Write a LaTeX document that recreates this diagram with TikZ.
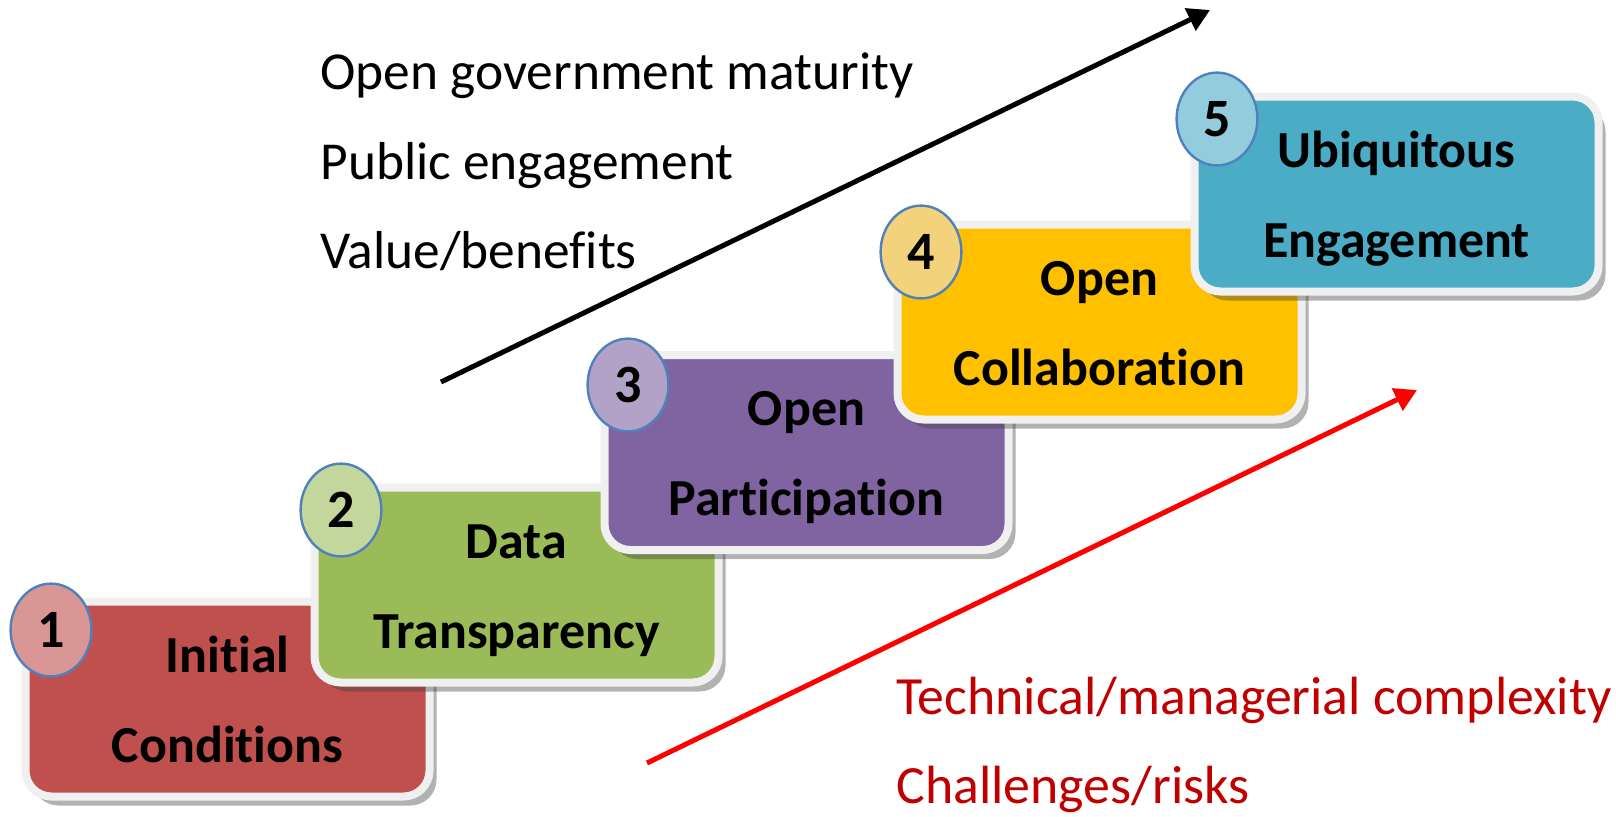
\documentclass[tikz,border=0pt]{standalone}
\usepackage{fontspec}
\setmainfont[Ligatures={NoCommon}]{Carlito}
\usetikzlibrary{shapes.geometric,arrows.meta,shadows}
\definecolor{s1}{HTML}{C0504D}
\definecolor{s2}{HTML}{9BBB59}
\definecolor{s3}{HTML}{8064A2}
\definecolor{s4}{HTML}{FFC000}
\definecolor{s5}{HTML}{4BACC6}
\definecolor{n1}{HTML}{D99694}
\definecolor{n2}{HTML}{C3D69B}
\definecolor{n3}{HTML}{B3A2C7}
\definecolor{n4}{HTML}{F3D27C}
\definecolor{n5}{HTML}{93CDDD}
\definecolor{boxedge}{HTML}{F0F0F0}
\definecolor{numedge}{HTML}{4F81BD}
\definecolor{darkred}{HTML}{C00000}
\definecolor{brightred}{HTML}{FF0000}
\newcommand{\twol}[2]{\strut #1\\#2\strut}
\tikzset{
  stagebox/.style={rectangle, rounded corners=13pt, fill=#1, draw=boxedge,
    line width=4pt, minimum width=202pt, minimum height=97.5pt, align=center,
    inner sep=0pt, font=\bfseries\fontsize{26}{45}\selectfont,
    drop shadow={shadow xshift=3.5pt, shadow yshift=-4.5pt, opacity=0.4, fill=black!75}},
  numbadge/.style={ellipse, fill=#1, draw=numedge, line width=1.2pt,
    minimum width=40.4pt, minimum height=46.4pt, inner sep=0pt,
    font=\bfseries\fontsize{27}{30}\selectfont},
  toptext/.style={anchor=base west, inner sep=0pt, font=\fontsize{26.7}{30}\selectfont},
  redtext/.style={anchor=base west, inner sep=0pt, text=darkred, font=\fontsize{26.9}{30}\selectfont},
  trend/.style={line width=2.5pt, -{Triangle[length=11pt,width=12pt]}}
}
\begin{document}
\begin{tikzpicture}[x=0.5pt,y=-0.5pt]
\useasboundingbox (0,0) rectangle (1616,816);
\fill[white] (0,0) rectangle (1616,816);

\node[stagebox=s1] (b1) at (227.5,699) {\twol{Initial}{Conditions}};
\node[numbadge=n1] (c1) at (51,630) {1};
\node[stagebox=s2] (b2) at (516.5,585) {\twol{Data}{Transparency}};
\node[numbadge=n2] (c2) at (341,510) {2};
\node[stagebox=s3] (b3) at (806.5,452.5) {\twol{Open}{Participation}};
\node[numbadge=n3] (c3) at (628,385) {3};
\node[stagebox=s4] (b4) at (1099.5,322) {\twol{Open}{Collaboration}};
\node[numbadge=n4] (c4) at (921,252) {4};
\node[stagebox=s5] (b5) at (1396.5,194) {\twol{Ubiquitous}{Engagement}};
\node[numbadge=n5] (c5) at (1217,119) {5};

\node[toptext] (t1) at (320,89) {Open government maturity};
\node[toptext] (t2) at (320,179) {Public engagement};
\node[toptext] (t3) at (320,268) {Value/benefits};

\node[redtext] (r1) at (896,714) {Technical/managerial complexity};
\node[redtext] (r2) at (896,803) {Challenges/risks};

\coordinate (up0) at (441,382);
\coordinate (up1) at (1210,10);
\coordinate (rk0) at (647,763);
\coordinate (rk1) at (1417,390);
\draw[trend, black] (up0) -- (up1);
\draw[trend, brightred] (rk0) -- (rk1);
\end{tikzpicture}
\end{document}
